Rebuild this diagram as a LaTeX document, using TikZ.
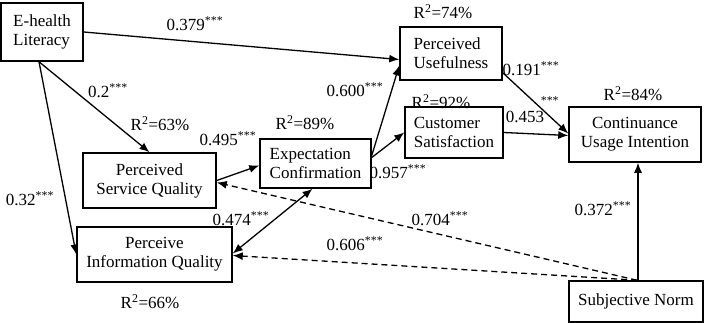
\documentclass[tikz,border=0pt]{standalone}
\usepackage{fontspec}
\setmainfont{Liberation Serif}
\usetikzlibrary{arrows.meta}

\begin{document}
\begin{tikzpicture}[x=1pt,y=-1pt,
    font=\fontsize{17}{19}\selectfont,
    box/.style={draw,line width=1.5pt,inner sep=2pt},
    lbl/.style={inner sep=0pt},
    arr/.style={line width=1.3pt,-{Latex[length=10pt,width=8pt]}},
    dasharr/.style={arr,dash pattern=on 6pt off 4pt}]
  \useasboundingbox (0,0) rectangle (708,323);
  % constructs
  \node[box,align=left,minimum width=82pt,minimum height=58pt] (ehl) at (42,32) {E-health\\Literacy};
  \node[box,align=left,minimum width=102pt,minimum height=53pt] (pu) at (451,53.5) {Perceived\\Usefulness};
  \node[box,align=left,minimum width=98pt,minimum height=51pt] (cs) at (454,132.5) {Customer\\Satisfaction};
  \node[box,align=center,minimum width=132pt,minimum height=55pt] (cui) at (635,134.5) {Continuance\\Usage Intention};
  \node[box,align=center,minimum width=133pt,minimum height=55pt] (psq) at (149.5,180.5) {Perceived\\Service Quality};
  \node[box,align=left,minimum width=111pt,minimum height=49pt] (ec) at (315.5,163.5) {Expectation\\Confirmation};
  \node[box,align=center,minimum width=155pt,minimum height=55pt] (piq) at (154.5,254.5) {Perceive\\Information Quality};
  \node[box,minimum width=134pt,minimum height=41pt] (sn) at (636,301.5) {Subjective Norm};
  % paths
  \draw[arr] (ehl.east) -- ([yshift=-6pt]pu.west);
  \draw[arr] ([xshift=-3pt]ehl.south) -- (psq.north);
  \draw[arr] ([xshift=-3pt]ehl.south) -- (piq.west);
  \draw[arr] (psq.east) -- ([yshift=-2pt]ec.west);
  \draw[arr,{Latex[length=10pt,width=8pt]}-{Latex[length=10pt,width=8pt]}] ([xshift=-3pt]ec.south) -- ([yshift=1pt]piq.east);
  \draw[arr] ([yshift=8pt]ec.east) -- ([yshift=-12pt]pu.west);
  \draw[arr] ([yshift=6pt]ec.east) -- (cs.west);
  \draw[arr] ([yshift=8pt]pu.south east) -- ([yshift=1pt]cui.west);
  \draw[arr] (cs.east) -- ([yshift=-1pt]cui.west);
  \draw[arr] ([xshift=2pt]sn.north) -- ([xshift=3pt]cui.south);
  \draw[dasharr] ([xshift=1pt]sn.north) -- ([yshift=-2pt]psq.east);
  \draw[dasharr] ([xshift=1pt]sn.north) -- ([yshift=-1pt]piq.east);
  % coefficients
  \node[lbl] (c1) at (195,24) {0.379\textsuperscript{***}};
  \node[lbl] (c2) at (108,91) {0.2\textsuperscript{***}};
  \node[lbl] (c3) at (30,199) {0.32\textsuperscript{***}};
  \node[lbl] (c4) at (228,139) {0.495\textsuperscript{***}};
  \node[lbl] (c5) at (241,219) {0.474\textsuperscript{***}};
  \node[lbl] (c6) at (355,90) {0.600\textsuperscript{***}};
  \node[lbl] (c7) at (398,172) {0.957\textsuperscript{***}};
  \node[lbl] (c8) at (531,69) {0.191\textsuperscript{***}};
  \node[lbl] (c8b) at (550,104) {\textsuperscript{***}};
  \node[lbl] (c9) at (525,117) {0.453};
  \node[lbl] (c10) at (440,219) {0.704\textsuperscript{***}};
  \node[lbl] (c11) at (355,244) {0.606\textsuperscript{***}};
  \node[lbl] (c12) at (603,209) {0.372\textsuperscript{***}};
  % explained variance
  \node[lbl] (r1) at (443,12) {R\textsuperscript{2}=74\%};
  \node[lbl] (r2) at (441,102) {R\textsuperscript{2}=92\%};
  \node[lbl] (r3) at (633,94) {R\textsuperscript{2}=84\%};
  \node[lbl] (r4) at (160,124) {R\textsuperscript{2}=63\%};
  \node[lbl] (r5) at (305,123) {R\textsuperscript{2}=89\%};
  \node[lbl] (r6) at (150,302) {R\textsuperscript{2}=66\%};
\end{tikzpicture}
\end{document}
